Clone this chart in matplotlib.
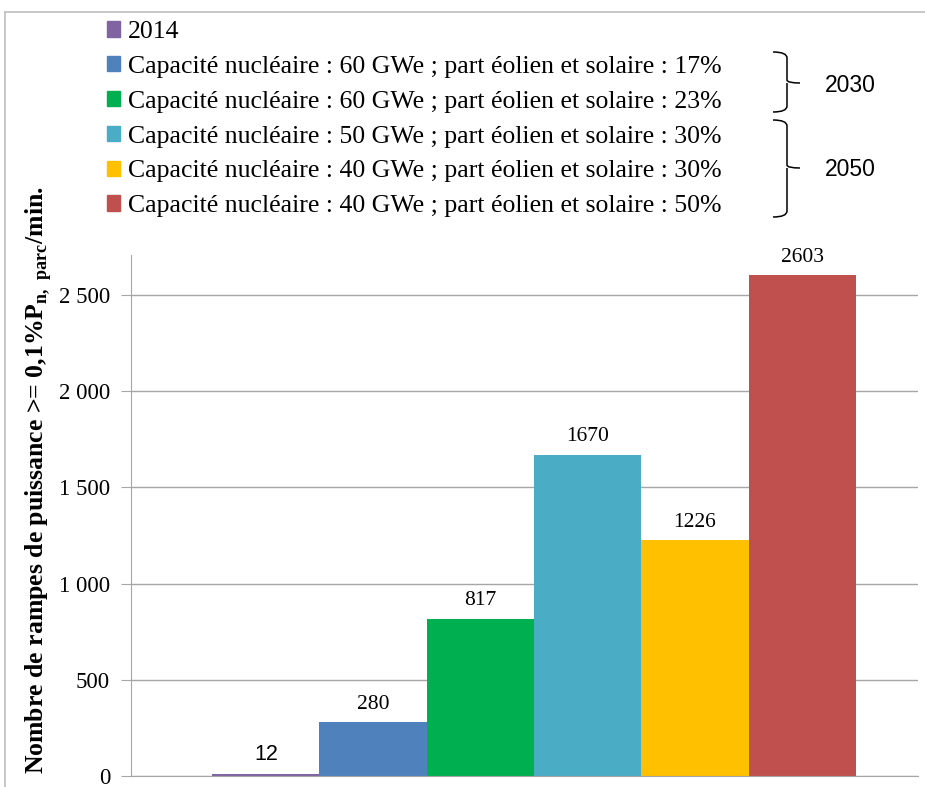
import matplotlib
matplotlib.use('Agg')
import matplotlib.pyplot as plt
from matplotlib.lines import Line2D
from matplotlib.patches import Patch, PathPatch
from matplotlib.path import Path

plt.rcParams['font.family'] = ['Liberation Serif', 'DejaVu Serif']
plt.rcParams['mathtext.fontset'] = 'custom'
plt.rcParams['mathtext.rm'] = 'Liberation Serif'
plt.rcParams['mathtext.bf'] = 'Liberation Serif:bold'

labels = [
    '2014',
    'Capacité nucléaire : 60 GWe ; part éolien et solaire : 17%',
    'Capacité nucléaire : 60 GWe ; part éolien et solaire : 23%',
    'Capacité nucléaire : 50 GWe ; part éolien et solaire : 30%',
    'Capacité nucléaire : 40 GWe ; part éolien et solaire : 30%',
    'Capacité nucléaire : 40 GWe ; part éolien et solaire : 50%',
]
values = [12, 280, 817, 1670, 1226, 2603]
colors = ['#8064A2', '#4F81BD', '#00B050', '#4BACC6', '#FFC000', '#C0504D']
yticks = [0, 500, 1000, 1500, 2000, 2500]
ytick_labels = ['0', '500', '1 000', '1 500', '2 000', '2 500']
groups = ['2030', '2050']

W, H = 925, 787
grey = '#A6A6A6'


def px(x, y):
    # pixel position -> figure fraction
    return x / W, 1 - y / H


fig = plt.figure(figsize=(W / 100, H / 100), dpi=100)
ax = fig.add_axes([131 / W, 1 - 776 / H, (918 - 131) / W, (776 - 255) / H])

pos = list(range(len(values)))
ax.bar(pos, values, width=1.0, color=colors)
ax.set_xlim(-1.257, 6.08)
ax.set_ylim(0, 2708)

ax.set_yticks(yticks)
ax.set_yticklabels(ytick_labels)
ax.yaxis.grid(True, color=grey, lw=1)
ax.set_axisbelow(True)
ax.tick_params(axis='y', length=7, color=grey, labelsize=16.5, pad=8)
ax.tick_params(axis='x', bottom=False, labelbottom=False)
for s in ['top', 'right']:
    ax.spines[s].set_visible(False)
for s in ['left', 'bottom']:
    ax.spines[s].set_color(grey)

for i, v in enumerate(values):
    fam = ['Liberation Sans'] if v < 100 else ['Liberation Serif']
    ax.annotate(str(v), (i, v), xytext=(0, 6), textcoords='offset points',
                ha='center', va='bottom', fontsize=15.5, family=fam)

fig.text(*px(39, 480),
         'Nombre de rampes de puissance >= 0,1%P$_{\\mathbf{n,\\ parc}}$/min.',
         rotation=90, ha='center', va='center', fontsize=18.5, fontweight='bold')

handles = [Patch(color=c) for c in colors]
fig.legend(handles, labels, loc='upper left', bbox_to_anchor=px(107, 21),
           frameon=False, fontsize=18.5, handlelength=0.5, handleheight=0.55,
           handletextpad=0.3, labelspacing=0.5, borderaxespad=0, borderpad=0)

# curly-ish braces for the years
for (top, bot, mid), year in zip([(52, 112, 83), (120, 217, 168)], groups):
    verts = [px(773, top), px(787, top), px(787, top + 6),
             px(787, mid - 3), px(787, mid), px(800, mid),
             px(787, mid), px(787, mid + 3),
             px(787, bot - 6), px(787, bot), px(773, bot)]
    codes = [Path.MOVETO, Path.CURVE3, Path.CURVE3,
             Path.LINETO, Path.CURVE3, Path.LINETO,
             Path.MOVETO, Path.LINETO,
             Path.LINETO, Path.CURVE3, Path.CURVE3]
    fig.add_artist(PathPatch(Path(verts, codes), fill=False, lw=1.1,
                             edgecolor='black', transform=fig.transFigure))
    fig.text(*px(825, mid + 2), year, ha='left', va='center', fontsize=16.5,
             family=['Liberation Sans'])

# outer frame
fig.add_artist(Line2D([5 / W, 5 / W], [0, 1 - 12 / H], color='#BFBFBF', lw=1.2,
                      transform=fig.transFigure))
fig.add_artist(Line2D([5 / W, 1], [1 - 12 / H, 1 - 12 / H], color='#BFBFBF', lw=1.2,
                      transform=fig.transFigure))

fig.savefig('out.png', dpi=100)
